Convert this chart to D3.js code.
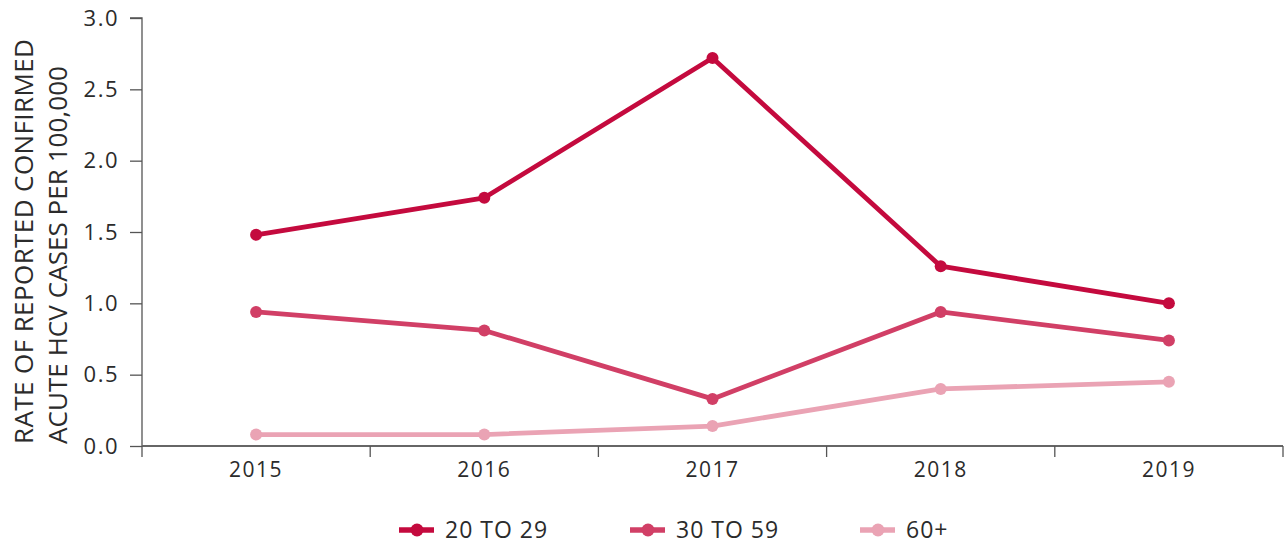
<!DOCTYPE html>
<html>
<head>
<meta charset="utf-8">
<script src="https://cdn.jsdelivr.net/npm/d3@7"></script>
<style>
  html, body { margin: 0; padding: 0; background: #fff; }
  svg { display: block; }
  text { font-family: "Open Sans", "Noto Sans", sans-serif; fill: #2b2b2b; font-weight: 400; }
</style>
</head>
<body>
<svg id="chart" width="1285" height="548"></svg>
<script>
// Reported confirmed acute HCV rates per 100,000 by age group
const years = ["2015", "2016", "2017", "2018", "2019"];
const age20to29 = [1.48, 1.74, 2.72, 1.26, 1.00];
const age30to59 = [0.94, 0.81, 0.33, 0.94, 0.74];
const age60plus = [0.08, 0.08, 0.14, 0.40, 0.45];
const seriesNames = ["20 TO 29", "30 TO 59", "60+"];
const seriesColors = ["#C40A3E", "#D13F66", "#EAA3B4"];
const yTicks = [0, 0.5, 1.0, 1.5, 2.0, 2.5, 3.0];

const series = [age20to29, age30to59, age60plus].map((vals, i) => ({
  name: seriesNames[i], color: seriesColors[i],
  points: vals.map((v, j) => ({ year: years[j], value: v }))
}));

const svg = d3.select("#chart");
const plotLeft = 142, plotRight = 1283, plotTop = 18, plotBottom = 446;

const x = d3.scaleBand().domain(years).range([plotLeft, plotRight]);
const y = d3.scaleLinear().domain([0, 3]).range([plotBottom, plotTop]);

// Y axis
const yAxis = svg.append("g").attr("transform", `translate(${plotLeft},0)`)
  .call(d3.axisLeft(y).tickValues(yTicks).tickFormat(d3.format(".1f")).tickSize(12).tickPadding(11));
yAxis.select(".domain").attr("stroke", "#555").attr("stroke-width", 1.3).attr("d", `M-12,${plotTop}H0V${plotBottom}`);
yAxis.selectAll(".tick line").attr("stroke", "#555").attr("stroke-width", 1.3);
yAxis.selectAll(".tick text")
  .style("font-size", "22px").style("letter-spacing", "1.5px")
  .attr("fill", "#2b2b2b").style("font-family", "'Open Sans', sans-serif");

// X axis
const xAxis = svg.append("g").attr("transform", `translate(0,${plotBottom})`)
  .call(d3.axisBottom(x).tickSize(0).tickPadding(16));
xAxis.select(".domain").attr("stroke", "#666").attr("stroke-width", 2).attr("d", `M${plotLeft},0H${plotRight}`);
xAxis.selectAll(".tick text")
  .style("font-size", "21px").style("letter-spacing", "1.5px")
  .attr("fill", "#2b2b2b").style("font-family", "'Open Sans', sans-serif");
// band boundary ticks
const bounds = years.map(d => x(d)).concat([plotRight]);
xAxis.selectAll(".bound").data(bounds).join("line")
  .attr("class", "bound")
  .attr("x1", d => d).attr("x2", d => d)
  .attr("y1", 0).attr("y2", 11)
  .attr("stroke", "#555").attr("stroke-width", 1.3);

// Y axis title (two lines, rotated, reading bottom to top)
const title = svg.append("text")
  .attr("transform", `translate(0,444) rotate(-90)`)
  .attr("text-anchor", "start")
  .style("font-size", "26px");
title.append("tspan").attr("x", 0).attr("y", 33)
  .attr("textLength", 405).attr("lengthAdjust", "spacing")
  .text("RATE OF REPORTED CONFIRMED");
title.append("tspan").attr("x", 0).attr("y", 67)
  .attr("textLength", 378).attr("lengthAdjust", "spacing")
  .text("ACUTE HCV CASES PER 100,000");

// Lines and markers
const cx = d => x(d.year) + x.bandwidth() / 2;
const line = d3.line().x(cx).y(d => y(d.value));

// draw lightest first so darker lines sit on top
[...series].reverse().forEach(s => {
  const g = svg.append("g");
  g.append("path").datum(s.points)
    .attr("d", line).attr("fill", "none")
    .attr("stroke", s.color).attr("stroke-width", 4.8)
    .attr("stroke-linejoin", "round");
  g.selectAll("circle").data(s.points).join("circle")
    .attr("cx", cx).attr("cy", d => y(d.value)).attr("r", 6)
    .attr("fill", s.color);
});

// Legend
const legendX = [399, 630, 860];
const legendY = 530;
series.forEach((s, i) => {
  const g = svg.append("g").attr("transform", `translate(${legendX[i]},${legendY})`);
  g.append("line").attr("x1", 0).attr("x2", 35).attr("y1", 0).attr("y2", 0)
    .attr("stroke", s.color).attr("stroke-width", 5.5);
  g.append("circle").attr("cx", 18).attr("cy", 0).attr("r", 6.5).attr("fill", s.color);
  g.append("text").attr("x", 46).attr("y", 0).attr("dy", "0.36em")
    .style("font-size", "23px").style("letter-spacing", "1px").text(s.name);
});
</script>
</body>
</html>
